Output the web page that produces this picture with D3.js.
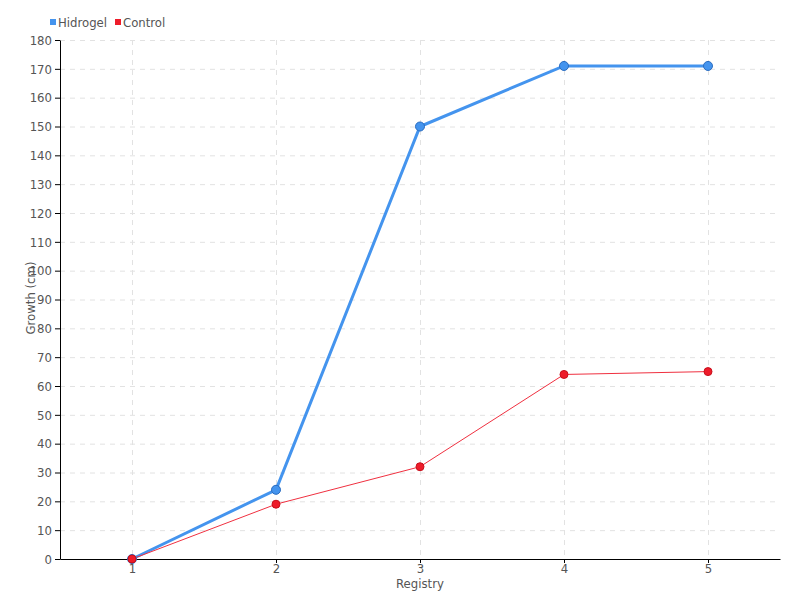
<!DOCTYPE html>
<html>
<head>
<meta charset="utf-8">
<script src="https://cdn.jsdelivr.net/npm/d3@7"></script>
<style>
  body { margin: 0; background: #fff; }
  text { font-family: "DejaVu Sans Condensed", "Liberation Sans Narrow", sans-serif; }
</style>
</head>
<body>
<svg width="800" height="600"></svg>
<script>
// data
var registry = [1, 2, 3, 4, 5];
var hidrogel = [0, 24, 150, 171, 171];
var control = [0, 19, 32, 64, 65];
var yTicks = d3.range(0, 181, 10);

var svg = d3.select("svg"),
    width = +svg.attr("width"),
    height = +svg.attr("height");

var margin = { top: 40, right: 20, bottom: 41, left: 60 };

var x = d3.scalePoint()
    .domain(registry)
    .range([margin.left, width - margin.right])
    .padding(0.5);

var y = d3.scaleLinear()
    .domain([0, 180])
    .range([height - margin.bottom, margin.top]);

// grid
svg.append("g")
    .selectAll("line")
    .data(yTicks)
    .enter()
    .append("line")
    .attr("x1", margin.left)
    .attr("x2", width - margin.right)
    .attr("y1", function (d) { return y(d) + 0.5; })
    .attr("y2", function (d) { return y(d) + 0.5; })
    .attr("stroke", "#e2e2e2")
    .attr("stroke-dasharray", "5,5");

svg.append("g")
    .selectAll("line")
    .data(registry)
    .enter()
    .append("line")
    .attr("x1", function (d) { return x(d) + 0.5; })
    .attr("x2", function (d) { return x(d) + 0.5; })
    .attr("y1", margin.top)
    .attr("y2", height - margin.bottom)
    .attr("stroke", "#e2e2e2")
    .attr("stroke-dasharray", "5,5");

// axes (tickSize sets outer too, so tickSizeOuter goes after it)
svg.append("g")
    .attr("transform", "translate(0," + (height - margin.bottom) + ")")
    .call(d3.axisBottom(x).tickSize(4).tickSizeOuter(0).tickPadding(1));

svg.append("g")
    .attr("transform", "translate(" + margin.left + ",0)")
    .call(d3.axisLeft(y).tickValues(yTicks).tickSize(5).tickSizeOuter(0));

svg.selectAll(".tick text")
    .attr("fill", "#555")
    .style("font-size", "13px");

// axis titles
svg.append("text")
    .attr("x", (margin.left + width - margin.right) / 2)
    .attr("y", 588)
    .attr("text-anchor", "middle")
    .attr("fill", "#555")
    .style("font-size", "13px")
    .text("Registry");

svg.append("text")
    .attr("transform", "rotate(-90)")
    .attr("x", -298)
    .attr("y", 35)
    .attr("text-anchor", "middle")
    .attr("fill", "#555")
    .style("font-size", "13px")
    .text("Growth (cm)");

// lines
var line = d3.line()
    .x(function (d, i) { return x(registry[i]); })
    .y(function (d) { return y(d); });

svg.append("path")
    .datum(hidrogel)
    .attr("fill", "none")
    .attr("stroke", "#4494ee")
    .attr("stroke-width", 3)
    .attr("d", line);

svg.append("path")
    .datum(control)
    .attr("fill", "none")
    .attr("stroke", "#f03040")
    .attr("stroke-width", 1)
    .attr("d", line);

svg.append("g")
    .selectAll("circle")
    .data(hidrogel)
    .enter()
    .append("circle")
    .attr("cx", function (d, i) { return x(registry[i]); })
    .attr("cy", function (d) { return y(d); })
    .attr("r", 4.5)
    .attr("fill", "#4494ee")
    .attr("stroke", "#2a6cc0")
    .attr("stroke-width", 1);

svg.append("g")
    .selectAll("circle")
    .data(control)
    .enter()
    .append("circle")
    .attr("cx", function (d, i) { return x(registry[i]); })
    .attr("cy", function (d) { return y(d); })
    .attr("r", 4)
    .attr("fill", "#ee1c2a")
    .attr("stroke", "#c8101c")
    .attr("stroke-width", 1);

// legend
var legend = [["Hidrogel", "#4494ee", 50], ["Control", "#ee1c2a", 115]];
legend.forEach(function (l) {
    svg.append("rect")
        .attr("x", l[2])
        .attr("y", 19)
        .attr("width", 6)
        .attr("height", 6)
        .attr("fill", l[1]);
    svg.append("text")
        .attr("x", l[2] + 8)
        .attr("y", 27)
        .attr("fill", "#555")
        .style("font-size", "13px")
        .text(l[0]);
});
</script>
</body>
</html>
